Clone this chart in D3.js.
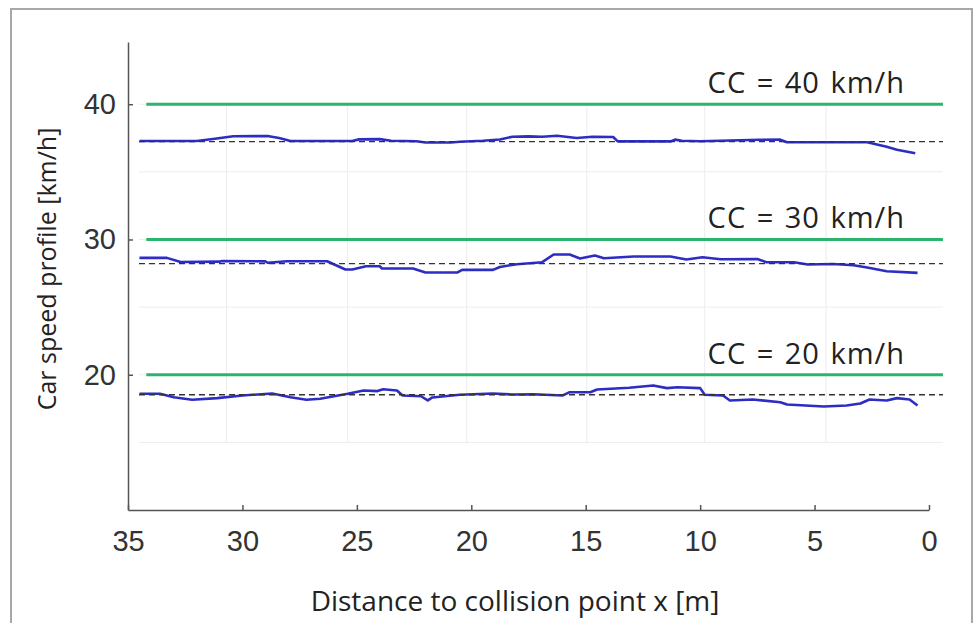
<!DOCTYPE html>
<html>
<head>
<meta charset="utf-8">
<script src="https://cdn.jsdelivr.net/npm/d3@7"></script>
<style>
  body { margin: 0; background: #fff; }
  svg { display: block; }
</style>
</head>
<body>
<svg></svg>
<script>
// distance to collision point [m], speed [km/h]
var speed40 = [[34.5,37.28],[32.0,37.28],[31.2,37.45],[30.4,37.63],[28.9,37.65],[28.4,37.5],[27.9,37.28],[25.2,37.28],[24.9,37.4],[24.0,37.42],[23.5,37.3],[22.4,37.26],[22.0,37.17],[20.9,37.17],[20.5,37.22],[19.5,37.3],[18.75,37.39],[18.2,37.6],[17.5,37.62],[16.9,37.6],[16.25,37.67],[15.4,37.5],[14.7,37.6],[13.8,37.58],[13.6,37.25],[11.3,37.25],[11.1,37.38],[10.8,37.3],[10.0,37.26],[7.4,37.37],[6.5,37.38],[6.2,37.19],[2.7,37.19],[1.85,36.86],[1.4,36.64],[0.6,36.37]];
var speed30 = [[34.5,28.64],[33.3,28.64],[32.7,28.34],[31.0,28.36],[30.9,28.41],[29.0,28.38],[28.9,28.28],[28.05,28.39],[26.3,28.39],[25.5,27.78],[25.2,27.78],[24.6,28.02],[24.0,28.02],[23.9,27.85],[22.55,27.85],[22.0,27.56],[20.6,27.56],[20.4,27.75],[19.05,27.75],[18.75,27.97],[18.3,28.1],[18.0,28.17],[16.9,28.32],[16.4,28.89],[15.7,28.89],[15.25,28.59],[14.6,28.81],[14.2,28.61],[12.9,28.74],[11.3,28.74],[10.6,28.52],[9.9,28.69],[9.1,28.54],[7.5,28.56],[7.1,28.32],[5.9,28.32],[5.3,28.15],[4.2,28.19],[3.3,28.1],[2.7,27.93],[1.85,27.65],[0.5,27.53]];
var speed20 = [[34.5,18.59],[33.6,18.59],[33.0,18.34],[32.2,18.15],[31.1,18.27],[30.0,18.47],[28.7,18.61],[27.9,18.34],[27.2,18.15],[26.6,18.22],[25.4,18.59],[24.7,18.84],[24.1,18.79],[23.85,18.93],[23.25,18.84],[23.0,18.47],[22.2,18.41],[21.9,18.10],[21.7,18.32],[20.5,18.52],[19.05,18.61],[18.2,18.54],[17.3,18.56],[16.0,18.47],[15.7,18.71],[14.8,18.71],[14.5,18.91],[13.1,19.04],[12.05,19.21],[11.45,19.01],[11.0,19.08],[10.0,19.01],[9.8,18.52],[9.0,18.47],[8.7,18.10],[7.7,18.17],[6.5,17.97],[6.2,17.80],[4.6,17.65],[3.6,17.73],[3.0,17.87],[2.6,18.17],[1.85,18.10],[1.4,18.27],[0.85,18.17],[0.5,17.73]];

var cruise = [40, 30, 20];              // green CC set speeds
var means = [37.23, 28.22, 18.52];      // dashed mean lines
var ccLabels = ["CC = 40 km/h", "CC = 30 km/h", "CC = 20 km/h"];
var xTicks = [35, 30, 25, 20, 15, 10, 5, 0];
var yTicks = [40, 30, 20];
var gridY = [40, 35, 30, 25, 20, 15];
var gridX = [30.7, 25.4, 20.2, 14.95, 9.8, 4.5];
var lineStart = 34.52, greenStart = 34.2, lineEnd = -0.61;

var viewWidth = 974, viewHeight = 623;
var margin = {top: 42, left: 128};
var width = 801, height = 468;

var root = d3.select("svg")
    .attr("width", viewWidth)
    .attr("height", viewHeight);

// outer frame
root.append("rect")
    .attr("x", 11).attr("y", 9)
    .attr("width", 961).attr("height", 640)
    .attr("fill", "none")
    .attr("stroke", "#a8a8a8")
    .attr("stroke-width", 2);

var svg = root.append("g")
    .attr("transform", "translate(" + margin.left + "," + margin.top + ")");

var x = d3.scaleLinear().domain([35, 0]).range([0, width]);
var y = d3.scaleLinear().domain([10, 44.6]).range([height, 0]);

// faint grid
svg.selectAll(".gy").data(gridY).enter().append("line")
    .attr("x1", x(lineStart)).attr("x2", x(lineEnd))
    .attr("y1", d => y(d)).attr("y2", d => y(d))
    .attr("stroke", "#ececec").attr("stroke-width", 1);
svg.selectAll(".gx").data(gridX).enter().append("line")
    .attr("x1", d => x(d)).attr("x2", d => x(d))
    .attr("y1", y(40)).attr("y2", y(15))
    .attr("stroke", "#ececec").attr("stroke-width", 1);

// axes
var xAxis = svg.append("g")
    .attr("transform", "translate(0," + height + ")")
    .call(d3.axisBottom(x).tickValues(xTicks).tickSizeInner(-5).tickSizeOuter(0).tickPadding(16));
var yAxis = svg.append("g")
    .call(d3.axisLeft(y).tickValues(yTicks).tickSizeInner(-5).tickSizeOuter(0).tickPadding(12));

[xAxis, yAxis].forEach(function(a) {
    a.select(".domain").attr("stroke", "#555").attr("stroke-width", 1.5);
    a.selectAll(".tick line").attr("stroke", "#555").attr("stroke-width", 1.5);
    a.selectAll("text")
        .attr("fill", "#333")
        .style("font-family", "'Liberation Sans', Arial, sans-serif")
        .style("font-size", "29px");
});
xAxis.selectAll("text").attr("dy", "0.85em");

// green CC lines
svg.selectAll(".cc").data(cruise).enter().append("line")
    .attr("x1", x(greenStart)).attr("x2", x(lineEnd))
    .attr("y1", d => y(d)).attr("y2", d => y(d))
    .attr("stroke", "#2bb56c").attr("stroke-width", 3);

// measured speed profiles
var line = d3.line()
    .x(function(d) { return x(d[0]); })
    .y(function(d) { return y(d[1]); });

[speed40, speed30, speed20].forEach(function(s) {
    svg.append("path")
        .datum(s)
        .attr("fill", "none")
        .attr("stroke", "#2d2dc4")
        .attr("stroke-width", 2.6)
        .attr("stroke-linejoin", "round")
        .attr("d", line);
});

// dashed mean lines
svg.selectAll(".mean").data(means).enter().append("line")
    .attr("x1", x(lineStart)).attr("x2", x(lineEnd))
    .attr("y1", d => y(d)).attr("y2", d => y(d))
    .attr("stroke", "#333")
    .attr("stroke-width", 1.3)
    .attr("stroke-dasharray", "6,4");

// CC labels
svg.selectAll(".cclab").data(cruise).enter().append("text")
    .attr("x", 905 - margin.left)
    .attr("y", d => y(d) - 11)
    .attr("text-anchor", "end")
    .style("font-family", "'Open Sans', sans-serif")
    .style("font-size", "29px")
    .style("letter-spacing", "1px")
    .style("word-spacing", "2px")
    .attr("fill", "#222")
    .text((d, i) => ccLabels[i]);

// axis titles
svg.append("text")
    .attr("transform", "rotate(-90)")
    .attr("x", -(269 - margin.top))
    .attr("y", 47 - margin.left)
    .attr("dy", "0.35em")
    .style("text-anchor", "middle")
    .style("font-family", "'Open Sans', sans-serif")
    .style("font-size", "25px")
    .attr("fill", "#222")
    .text("Car speed profile  [km/h]");

svg.append("text")
    .attr("x", 515 - margin.left)
    .attr("y", 601 - margin.top)
    .attr("dy", "0.35em")
    .style("text-anchor", "middle")
    .style("font-family", "'Open Sans', sans-serif")
    .style("font-size", "28px")
    .attr("fill", "#222")
    .text("Distance to collision point x [m]");
</script>
</body>
</html>
